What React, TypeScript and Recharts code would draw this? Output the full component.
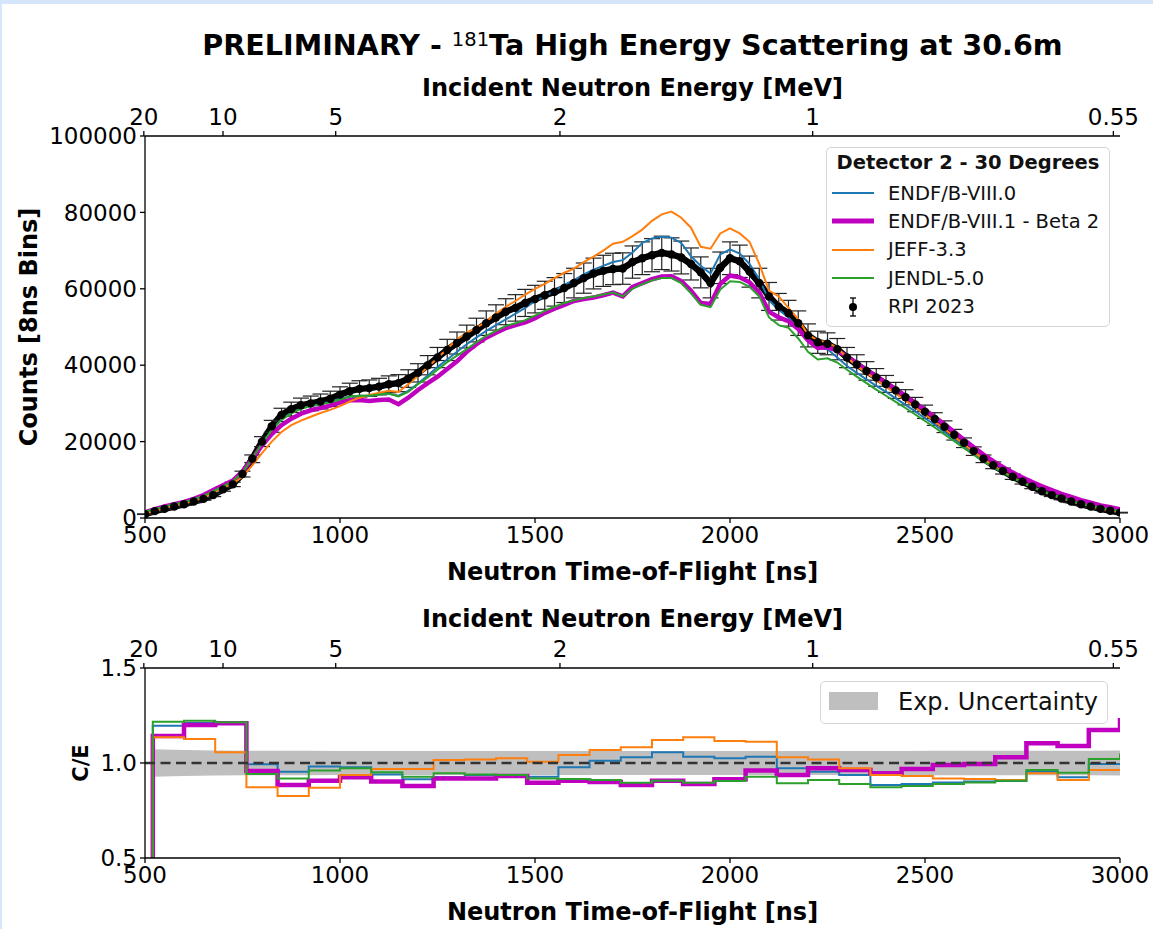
import {
  ComposedChart,
  Line,
  Scatter,
  ErrorBar,
  Area,
  XAxis,
  YAxis,
  ReferenceLine,
  Legend,
  Label,
} from 'recharts'

const FONT = '"DejaVu Sans", sans-serif'

// time-of-flight grid of the count spectra [ns]
const tof = [
  500, 525, 550, 575, 600, 625, 650, 675, 700, 725,
  750, 775, 800, 825, 850, 875, 900, 925, 950, 975,
  1000, 1025, 1050, 1075, 1100, 1125, 1150, 1175, 1200, 1225,
  1250, 1275, 1300, 1325, 1350, 1375, 1400, 1425, 1450, 1475,
  1500, 1525, 1550, 1575, 1600, 1625, 1650, 1675, 1700, 1725,
  1750, 1775, 1800, 1825, 1850, 1875, 1900, 1925, 1950, 1975,
  2000, 2025, 2050, 2075, 2100, 2125, 2150, 2175, 2200, 2225,
  2250, 2275, 2300, 2325, 2350, 2375, 2400, 2425, 2450, 2475,
  2500, 2525, 2550, 2575, 2600, 2625, 2650, 2675, 2700, 2725,
  2750, 2775, 2800, 2825, 2850, 2875, 2900, 2925, 2950, 2975,
  3000,
]

const rpi2023 = [
  1000, 1800, 2400, 3000, 3600, 4300, 5000, 6000, 7500, 8800,
  11500, 15500, 20000, 24000, 27000, 28500, 29500, 30000, 30500, 31200,
  32300, 33200, 33800, 34000, 34400, 35000, 35300, 36500, 38000, 40000,
  42000, 44000, 45800, 47500, 49200, 51000, 52500, 54000, 55000, 56300,
  57300, 58300, 59200, 60200, 61500, 62800, 64000, 64700, 65200, 65300,
  67000, 68000, 68800, 69400, 69000, 68200, 66500, 64300, 61500, 65500,
  68000, 67200, 64500, 61500, 58000, 55300, 53600, 51000, 47800, 46000,
  45600, 44200, 42000, 40200, 38500, 36800, 35100, 33400, 31600, 29700,
  27800, 25900, 23900, 21800, 19700, 17500, 15500, 13800, 12300, 10800,
  9500, 8200, 7000, 6000, 5100, 4300, 3600, 3000, 2400, 1900,
  1400,
]

const endf80 = [
  1300, 2000, 2600, 3300, 3900, 4600, 5400, 6400, 7800, 9300,
  11800, 15300, 19300, 23000, 25800, 27600, 28700, 29300, 29800, 30500,
  31200, 31800, 32000, 32000, 32300, 32500, 32000, 33300, 35200, 37300,
  39500, 41500, 43500, 45500, 47300, 49000, 50500, 52000, 53500, 55000,
  56800, 58000, 59500, 61000, 62300, 63800, 65000, 66000, 67000, 67500,
  69500, 72000, 73200, 73600, 73400, 72000, 68500, 66000, 64000, 69000,
  70300, 69200, 66500, 62500, 57000, 54500, 52500, 49500, 46500, 44500,
  44200, 42000, 39800, 38000, 36300, 34600, 33000, 31300, 29600, 27900,
  26100, 24400, 22500, 20600, 18700, 16800, 15000, 13400, 11900, 10500,
  9300, 8100, 7000, 6000, 5200, 4400, 3700, 3100, 2600, 2100,
  1700,
]

const endf81b2 = [
  1500, 2300, 3000, 3600, 4200, 5000, 6000, 7300, 8600, 9800,
  12200, 15500, 19000, 22000, 24300, 26000, 27300, 28200, 28800, 29400,
  30200, 30800, 30900, 30600, 30900, 31000, 29800, 31500, 33500, 35300,
  37000, 39000, 41000, 43500, 45500, 47200, 48500, 49700, 50500, 51200,
  52300, 53700, 54800, 55800, 56800, 57300, 57700, 58300, 59000, 58000,
  60500, 61500, 62500, 63200, 63300, 62000, 59500, 56300, 56000, 61300,
  63500, 63000, 61700, 59000, 54000, 52500, 51500, 49500, 46500, 44500,
  44700, 43800, 42300, 40500, 38800, 37100, 35400, 33700, 31900, 30100,
  28300, 26400, 24500, 22500, 20500, 18500, 16600, 14900, 13300, 11900,
  10600, 9400, 8300, 7300, 6300, 5500, 4700, 4000, 3300, 2800,
  2300,
]

const jeff33 = [
  1200, 1900, 2600, 3200, 3800, 4500, 5300, 6500, 8000, 9000,
  10800, 13800, 17000, 20000, 22500, 24300, 25500, 26500, 27500, 28300,
  29300, 30500, 31500, 32200, 32800, 33300, 33000, 35000, 37200, 39500,
  41800, 44300, 46800, 48500, 49800, 51500, 53500, 55300, 56800, 58500,
  60000, 61300, 62800, 64200, 65300, 67000, 68400, 70000, 71800, 72300,
  73800, 75500, 77800, 79500, 80200, 78600, 76000, 71000, 70500, 74500,
  75800, 74500, 72300, 66500, 59500, 58000, 55000, 52000, 48000, 46500,
  46000, 44500, 42000, 39800, 38000, 36200, 34400, 32600, 30800, 29000,
  27100, 25200, 23300, 21300, 19300, 17300, 15400, 13700, 12100, 10700,
  9400, 8200, 7100, 6100, 5200, 4400, 3700, 3100, 2500, 2000,
  1500,
]

const jendl50 = [
  1600, 2300, 3000, 3600, 4100, 4900, 5800, 7000, 8300, 9600,
  12000, 15600, 19500, 23000, 25700, 27400, 28600, 29300, 29800, 30300,
  31000, 31800, 32000, 32000, 32300, 32600, 31800, 33000, 35000, 36800,
  38800, 40800, 42500, 44200, 46000, 47700, 49000, 50300, 51000, 51800,
  53000, 54200, 55300, 56300, 57000, 57600, 58000, 58500, 59000, 58000,
  60000, 61200, 62200, 62800, 62800, 61500, 58800, 55800, 55200, 59800,
  62000, 61800, 60500, 58000, 52500, 50500, 49800, 47000, 43500, 41500,
  41800, 40700, 38800, 37000, 35300, 33600, 32000, 30400, 28800, 27100,
  25400, 23700, 21900, 20100, 18300, 16500, 14800, 13300, 11900, 10500,
  9300, 8200, 7100, 6200, 5300, 4500, 3800, 3200, 2700, 2200,
  1800,
]

// C/E histogram: left bin edges [ns] (value holds until the next edge)
const ceEdges = [
  500, 520, 600, 680, 760, 840, 920, 1000, 1080, 1160, 1240,
  1320, 1400, 1480, 1560, 1640, 1720, 1800, 1880, 1960, 2040,
  2120, 2200, 2280, 2360, 2440, 2520, 2600, 2680, 2760, 2840,
  2920, 3000,
]

const ceEndf80 = [
  0, 1.196, 1.21, 1.214, 0.993, 0.954, 0.981, 0.977, 0.94, 0.915, 0.925,
  0.937, 0.937, 0.928, 0.977, 1.012, 1.03, 1.056, 1.033, 1.025, 1.033,
  0.972, 0.954, 0.937, 0.884, 0.889, 0.898, 0.902, 0.905, 0.954, 0.925,
  0.995, 1.0,
]

const ceEndf81b2 = [
  0, 1.142, 1.2, 1.209, 0.958, 0.884, 0.907, 0.925, 0.902, 0.879, 0.919,
  0.919, 0.932, 0.896, 0.907, 0.9, 0.884, 0.907, 0.89, 0.914, 0.96,
  0.937, 0.972, 0.963, 0.946, 0.968, 0.989, 0.995, 1.03, 1.104, 1.089,
  1.174, 1.237,
]

const ceJeff33 = [
  0, 1.135, 1.126, 1.056, 0.872, 0.826, 0.87, 0.937, 0.968, 0.968, 1.016,
  1.019, 1.025, 1.007, 1.042, 1.068, 1.083, 1.121, 1.135, 1.116, 1.112,
  1.03, 1.019, 0.972, 0.937, 0.932, 0.919, 0.916, 0.911, 0.946, 0.911,
  0.963, 0.97,
]

const ceJendl50 = [
  0, 1.217, 1.223, 1.214, 0.942, 0.919, 0.96, 0.972, 0.951, 0.928, 0.946,
  0.94, 0.937, 0.919, 0.916, 0.91, 0.896, 0.907, 0.896, 0.905, 0.928,
  0.893, 0.911, 0.889, 0.872, 0.879, 0.889, 0.898, 0.907, 0.963, 0.949,
  1.021, 1.05,
]

// relative experimental uncertainty at each C/E edge
const expUnc = [
  null, 0.072, 0.068, 0.066, 0.065, 0.064, 0.064, 0.063, 0.063, 0.063, 0.063,
  0.063, 0.063, 0.063, 0.063, 0.063, 0.063, 0.063, 0.063, 0.063, 0.063,
  0.063, 0.063, 0.063, 0.063, 0.063, 0.064, 0.064, 0.064, 0.064, 0.065,
  0.065, 0.066,
]

const energyLabels = ['20', '10', '5', '2', '1', '0.55']
const energyTickTof = [497, 700, 989, 1564, 2212, 2983]
const tofTicks = [500, 1000, 1500, 2000, 2500, 3000]
const countTicks = [0, 20000, 40000, 60000, 80000, 100000]
const ceTicks = [0.5, 1.0, 1.5]

const COLORS = {
  endf80: '#1f77b4',
  endf81: '#bf00bf',
  jeff: '#ff7f0e',
  jendl: '#2ca02c',
}

const uncAt = (t: number) => {
  let k = 1
  for (let i = 1; i < ceEdges.length; i++) if (ceEdges[i] <= t) k = i
  return expUnc[k] as number
}

const countsData = tof.map((t, i) => ({
  tof: t,
  rpi: rpi2023[i],
  err: Math.round(rpi2023[i] * uncAt(t)),
  endf80: endf80[i],
  endf81: endf81b2[i],
  jeff: jeff33[i],
  jendl: jendl50[i],
}))

const ceData = ceEdges.map((t, i) => ({
  tof: t,
  endf80: ceEndf80[i],
  endf81: ceEndf81b2[i],
  jeff: ceJeff33[i],
  jendl: ceJendl50[i],
  band: expUnc[i] == null ? null : [1 - (expUnc[i] as number), 1 + (expUnc[i] as number)],
}))

const energyLabel = (v: number) => {
  const idx = energyTickTof.indexOf(v)
  return idx >= 0 ? energyLabels[idx] : ''
}

const axisLine = { stroke: '#000', strokeWidth: 1.3 }
const tickStyle = { fill: '#000', fontSize: 23 }
const labelStyle = { fill: '#000', fontSize: 24, fontWeight: 'bold' as const }

const legendItems = [
  { name: 'ENDF/B-VIII.0', color: COLORS.endf80, width: 2 },
  { name: 'ENDF/B-VIII.1 - Beta 2', color: COLORS.endf81, width: 5 },
  { name: 'JEFF-3.3', color: COLORS.jeff, width: 2 },
  { name: 'JENDL-5.0', color: COLORS.jendl, width: 2 },
]

function TopLegend() {
  return (
    <div
      style={{
        position: 'relative',
        width: 284,
        height: 180,
        boxSizing: 'border-box',
        border: '1px solid #d6d6d6',
        borderRadius: 5,
        background: 'rgba(255,255,255,0.85)',
        fontFamily: FONT,
        color: '#111',
      }}
    >
      <div
        style={{
          position: 'absolute',
          left: 0,
          right: 0,
          top: 3,
          textAlign: 'center',
          fontWeight: 'bold',
          fontSize: 19.5,
          lineHeight: '24px',
        }}
      >
        Detector 2 - 30 Degrees
      </div>
      {legendItems.map((it, i) => (
        <div
          key={it.name}
          style={{
            position: 'absolute',
            left: 4,
            top: 33 + i * 28.4,
            height: 24,
            display: 'flex',
            alignItems: 'center',
            fontSize: 19.5,
            whiteSpace: 'nowrap',
          }}
        >
          <svg width={46} height={24}>
            <line x1={1} x2={43} y1={12} y2={12} stroke={it.color} strokeWidth={it.width} />
          </svg>
          <span style={{ marginLeft: 11 }}>{it.name}</span>
        </div>
      ))}
      <div
        style={{
          position: 'absolute',
          left: 4,
          top: 33 + 4 * 28.4,
          height: 24,
          display: 'flex',
          alignItems: 'center',
          fontSize: 19.5,
          whiteSpace: 'nowrap',
        }}
      >
        <svg width={46} height={24}>
          <line x1={22} x2={22} y1={3} y2={21} stroke="#000" strokeWidth={1.3} />
          <line x1={19} x2={25} y1={3} y2={3} stroke="#000" strokeWidth={1.3} />
          <line x1={19} x2={25} y1={21} y2={21} stroke="#000" strokeWidth={1.3} />
          <circle cx={22} cy={12} r={4} fill="#000" />
        </svg>
        <span style={{ marginLeft: 11 }}>RPI 2023</span>
      </div>
    </div>
  )
}

function BottomLegend() {
  return (
    <div
      style={{
        position: 'relative',
        width: 288,
        height: 43,
        boxSizing: 'border-box',
        border: '1px solid #d6d6d6',
        borderRadius: 5,
        background: 'rgba(255,255,255,0.85)',
        fontFamily: FONT,
        color: '#111',
      }}
    >
      <div
        style={{
          position: 'absolute',
          left: 8,
          top: 10,
          width: 49,
          height: 18,
          background: '#bfbfbf',
        }}
      />
      <div
        style={{
          position: 'absolute',
          left: 77,
          top: 6,
          fontSize: 24,
          lineHeight: '28px',
          whiteSpace: 'nowrap',
        }}
      >
        Exp. Uncertainty
      </div>
    </div>
  )
}

const dot = (props: any) => <circle cx={props.cx} cy={props.cy} r={4.2} fill="#000" />

export default function App() {
  return (
    <div
      style={{
        position: 'absolute',
        left: 0,
        top: 0,
        width: 1153,
        height: 929,
        background: '#d5e6fa',
        fontFamily: FONT,
        overflow: 'hidden',
      }}
    >
      <div style={{ position: 'absolute', left: 2, top: 4, right: 0, bottom: 0, background: '#fff' }} />

      <div
        style={{
          position: 'absolute',
          left: 145,
          width: 975,
          top: 31,
          textAlign: 'center',
          fontSize: 28.6,
          fontWeight: 'bold',
          lineHeight: '28px',
          color: '#000',
          whiteSpace: 'nowrap',
        }}
      >
        PRELIMINARY -{' '}
        <sup style={{ fontSize: 19.5, fontWeight: 'normal', lineHeight: 0, verticalAlign: 9 }}>181</sup>
        Ta High Energy Scattering at 30.6m
      </div>

      <div style={{ position: 'absolute', left: 0, top: 0 }}>
        <ComposedChart
          width={1153}
          height={600}
          data={countsData}
          margin={{ top: 0, right: 33, bottom: 0, left: 0 }}
        >
          <XAxis
            xAxisId="energy"
            dataKey="tof"
            orientation="top"
            type="number"
            domain={[500, 3000]}
            allowDataOverflow
            ticks={energyTickTof}
            interval={0}
            tickFormatter={energyLabel}
            height={136}
            tickSize={5}
            tickMargin={6}
            tick={tickStyle}
            axisLine={axisLine}
            tickLine={axisLine}
          >
            <Label value="Incident Neutron Energy [MeV]" position="insideTop" offset={79} style={labelStyle} />
          </XAxis>
          <XAxis
            dataKey="tof"
            type="number"
            domain={[500, 3000]}
            allowDataOverflow
            ticks={tofTicks}
            interval={0}
            height={82}
            tickSize={5}
            tickMargin={4}
            tick={tickStyle}
            axisLine={axisLine}
            tickLine={axisLine}
          >
            <Label value="Neutron Time-of-Flight [ns]" position="insideBottom" offset={20} style={labelStyle} />
          </XAxis>
          <YAxis
            type="number"
            domain={[0, 100000]}
            ticks={countTicks}
            interval={0}
            width={145}
            tickSize={5}
            tickMargin={3}
            tick={tickStyle}
            axisLine={axisLine}
            tickLine={axisLine}
          >
            <Label
              value="Counts [8ns Bins]"
              angle={-90}
              position="insideLeft"
              offset={28}
              textAnchor="middle"
              style={labelStyle}
            />
          </YAxis>
          <YAxis yAxisId="frame" orientation="right" width={0} domain={[0, 1]} tick={false} tickLine={false} axisLine={axisLine} />

          {/* invisible series that gives the energy axis its scale */}
          <Line xAxisId="energy" dataKey="rpi" stroke="transparent" dot={false} activeDot={false} legendType="none" isAnimationActive={false} />

          <Line type="linear" dataKey="rpi" stroke="#000" strokeWidth={6.5} dot={false} legendType="none" isAnimationActive={false} />
          <Scatter dataKey="rpi" shape={dot} isAnimationActive={false}>
            <ErrorBar dataKey="err" direction="y" width={8} stroke="#222" strokeWidth={1.2} isAnimationActive={false} />
          </Scatter>
          <Line type="linear" dataKey="endf80" stroke={COLORS.endf80} strokeWidth={2} dot={false} isAnimationActive={false} />
          <Line type="linear" dataKey="endf81" stroke={COLORS.endf81} strokeWidth={4.5} dot={false} isAnimationActive={false} />
          <Line type="linear" dataKey="jeff" stroke={COLORS.jeff} strokeWidth={2} dot={false} isAnimationActive={false} />
          <Line type="linear" dataKey="jendl" stroke={COLORS.jendl} strokeWidth={2} dot={false} isAnimationActive={false} />

          <Legend
            layout="horizontal"
            verticalAlign="middle"
            align="center"
            content={() => <TopLegend />}
            wrapperStyle={{ left: 826, top: 147, width: 284, height: 180 }}
          />
        </ComposedChart>
      </div>

      <div style={{ position: 'absolute', left: 0, top: 600 }}>
        <ComposedChart
          width={1153}
          height={329}
          data={ceData}
          margin={{ top: 0, right: 33, bottom: 0, left: 0 }}
        >
          <XAxis
            xAxisId="energy"
            dataKey="tof"
            orientation="top"
            type="number"
            domain={[500, 3000]}
            allowDataOverflow
            ticks={energyTickTof}
            interval={0}
            tickFormatter={energyLabel}
            height={68}
            tickSize={5}
            tickMargin={6}
            tick={tickStyle}
            axisLine={axisLine}
            tickLine={axisLine}
          >
            <Label value="Incident Neutron Energy [MeV]" position="insideTop" offset={10} style={labelStyle} />
          </XAxis>
          <XAxis
            dataKey="tof"
            type="number"
            domain={[500, 3000]}
            allowDataOverflow
            ticks={tofTicks}
            interval={0}
            height={71}
            tickSize={5}
            tickMargin={4}
            tick={tickStyle}
            axisLine={axisLine}
            tickLine={axisLine}
          >
            <Label value="Neutron Time-of-Flight [ns]" position="insideBottom" offset={9} style={labelStyle} />
          </XAxis>
          <YAxis
            type="number"
            domain={[0.5, 1.5]}
            allowDataOverflow
            ticks={ceTicks}
            interval={0}
            tickFormatter={(v: number) => v.toFixed(1)}
            width={145}
            tickSize={5}
            tickMargin={3}
            tick={tickStyle}
            axisLine={axisLine}
            tickLine={axisLine}
          >
            <Label
              value="C/E"
              angle={-90}
              position="insideLeft"
              offset={81}
              textAnchor="middle"
              style={{ ...labelStyle, fontSize: 21 }}
            />
          </YAxis>
          <YAxis yAxisId="frame" orientation="right" width={0} domain={[0, 1]} tick={false} tickLine={false} axisLine={axisLine} />

          {/* invisible series that gives the energy axis its scale */}
          <Line xAxisId="energy" dataKey="endf80" stroke="transparent" dot={false} activeDot={false} legendType="none" isAnimationActive={false} />

          <Area type="linear" dataKey="band" stroke="none" fill="#bfbfbf" fillOpacity={1} isAnimationActive={false} />
          <Line type="stepAfter" dataKey="endf80" stroke={COLORS.endf80} strokeWidth={2} dot={false} isAnimationActive={false} />
          <Line type="stepAfter" dataKey="endf81" stroke={COLORS.endf81} strokeWidth={4.5} dot={false} isAnimationActive={false} />
          <Line type="stepAfter" dataKey="jeff" stroke={COLORS.jeff} strokeWidth={2} dot={false} isAnimationActive={false} />
          <Line type="stepAfter" dataKey="jendl" stroke={COLORS.jendl} strokeWidth={2} dot={false} isAnimationActive={false} />
          <ReferenceLine y={1} stroke="#333" strokeWidth={2.5} strokeDasharray="10 5.5" />

          <Legend
            layout="horizontal"
            verticalAlign="middle"
            align="center"
            content={() => <BottomLegend />}
            wrapperStyle={{ left: 820, top: 81, width: 288, height: 43 }}
          />
        </ComposedChart>
      </div>
    </div>
  )
}
